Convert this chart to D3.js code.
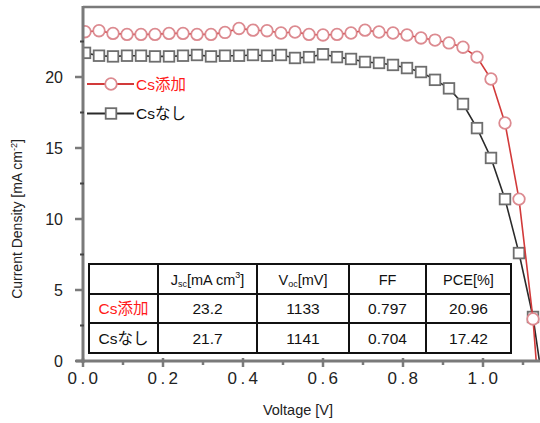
<!DOCTYPE html>
<html><head><meta charset="utf-8">
<script src="https://cdn.jsdelivr.net/npm/d3@7"></script>
<style>
body{margin:0;background:#fff;}
svg{display:block;font-family:"Liberation Sans",Arial,"Noto Sans CJK JP",sans-serif;}
</style></head>
<body><svg id="c" width="540" height="423"></svg>
<script>
// ---- data ----
const voltage = [0.005, 0.04, 0.075, 0.11, 0.145, 0.18, 0.215, 0.25, 0.285, 0.32, 0.355, 0.39, 0.425, 0.46, 0.495, 0.53, 0.565, 0.6, 0.635, 0.67, 0.705, 0.74, 0.775, 0.81, 0.845, 0.88, 0.915, 0.95, 0.985, 1.02, 1.055, 1.09, 1.125];
const jWithCs = [23.19, 23.26, 23.07, 23.0, 23.0, 23.0, 23.07, 23.07, 23.0, 23.0, 23.14, 23.42, 23.3, 23.26, 23.1, 23.17, 23.0, 22.96, 23.0, 23.1, 23.3, 23.17, 23.1, 22.96, 22.75, 22.6, 22.4, 22.1, 21.4, 19.86, 16.76, 11.4, 2.96];
const jNoCs = [21.7, 21.5, 21.45, 21.5, 21.5, 21.45, 21.45, 21.5, 21.55, 21.45, 21.5, 21.5, 21.55, 21.5, 21.55, 21.34, 21.4, 21.6, 21.4, 21.27, 21.06, 20.99, 20.85, 20.63, 20.35, 19.8, 19.2, 18.1, 16.4, 14.3, 11.4, 7.6, 3.1];
const seriesNames = ["Cs添加", "Csなし"];
const vocVolts = [1.133, 1.141];
const xTicks = [0.0, 0.2, 0.4, 0.6, 0.8, 1.0];
const xMinorTicks = [0.1, 0.3, 0.5, 0.7, 0.9, 1.1];
const yTicks = [0, 5, 10, 15, 20];
const yMinorTicks = [2.5, 7.5, 12.5, 17.5, 22.5];
const tableJsc = ["23.2", "21.7"];
const tableVoc = ["1133", "1141"];
const tableFF = ["0.797", "0.704"];
const tablePCE = ["20.96", "17.42"];

// ---- layout ----
const svg = d3.select("#c");
const x = d3.scaleLinear().domain([0, 1.1425]).range([83, 540]);
const y = d3.scaleLinear().domain([0, 25]).range([361, 6]);
const axisColor = "#7a7a7a";

// top border
svg.append("line").attr("x1", 83).attr("x2", 540).attr("y1", 7).attr("y2", 7)
  .attr("stroke", axisColor).attr("stroke-width", 2.5);

// series
const series = [
  {name: seriesNames[0], j: jWithCs, voc: vocVolts[0], line: "#d23a3a", mark: "#dc8a90", shape: "circle", text: "#ff1a1a"},
  {name: seriesNames[1], j: jNoCs, voc: vocVolts[1], line: "#2a2a2a", mark: "#6e6e6e", shape: "square", text: "#111"}
];
const line = d3.line().x(d => x(d[0])).y(d => y(d[1]));
svg.append("clipPath").attr("id", "pc").append("rect")
  .attr("x", 83).attr("y", 0).attr("width", 460).attr("height", 361);

function marker(g, cx, cy, s) {
  if (s.shape === "circle") {
    g.append("circle").attr("cx", cx).attr("cy", cy).attr("r", 5.8)
      .attr("fill", "#fff").attr("stroke", s.mark).attr("stroke-width", 1.8);
  } else {
    g.append("rect").attr("x", cx - 5.3).attr("y", cy - 5.3).attr("width", 10.6).attr("height", 10.6)
      .attr("fill", "#fff").attr("stroke", s.mark).attr("stroke-width", 1.8);
  }
}

// draw black first then red on top
[series[1], series[0]].forEach(s => {
  const g = svg.append("g").attr("clip-path", "url(#pc)");
  const pts = voltage.map((v, i) => [v, s.j[i]]).concat([[s.voc, 0]]);
  g.append("path").attr("d", line(pts)).attr("fill", "none")
    .attr("stroke", s.line).attr("stroke-width", 1.6);
  voltage.forEach((v, i) => marker(g, x(v), y(s.j[i]), s));
});

// legend
series.forEach((s, i) => {
  const ly = 84 + i * 29.5;
  svg.append("line").attr("x1", 87).attr("x2", 134).attr("y1", ly).attr("y2", ly)
    .attr("stroke", s.line).attr("stroke-width", 2);
  marker(svg, 111, ly, s);
  svg.append("text").attr("x", 136).attr("y", ly + 5.5).attr("font-size", 15.5)
    .attr("fill", s.text).text(s.name);
});

// axes
const gx = svg.append("g").attr("transform", "translate(0,361)");
gx.append("line").attr("x1", 76).attr("x2", 540).attr("stroke", axisColor).attr("stroke-width", 3);
gx.selectAll(".mj").data(xTicks).join("line").attr("class", "mj").attr("x1", d => x(d)).attr("x2", d => x(d))
  .attr("y1", -3).attr("y2", 6).attr("stroke", axisColor).attr("stroke-width", 2.5);
gx.selectAll(".mn").data(xMinorTicks).join("line").attr("class", "mn").attr("x1", d => x(d)).attr("x2", d => x(d))
  .attr("y1", 1).attr("y2", 4).attr("stroke", axisColor).attr("stroke-width", 2.5);
gx.selectAll(".tl").data(xTicks).join("text").attr("class", "tl")
  .attr("x", d => x(d) + 1.5).attr("y", 23).attr("text-anchor", "middle")
  .attr("font-size", 17).attr("letter-spacing", "3.4px").attr("fill", "#222")
  .text(d => d3.format(".1f")(d));

const gy = svg.append("g");
gy.append("line").attr("x1", 83).attr("x2", 83).attr("y1", 6).attr("y2", 363)
  .attr("stroke", axisColor).attr("stroke-width", 3);
gy.selectAll(".mj").data(yTicks).join("line").attr("class", "mj")
  .attr("x1", 75).attr("x2", 84).attr("y1", d => y(d)).attr("y2", d => y(d))
  .attr("stroke", axisColor).attr("stroke-width", 2.5);
gy.selectAll(".mn").data(yMinorTicks).join("line").attr("class", "mn")
  .attr("x1", 80).attr("x2", 84).attr("y1", d => y(d)).attr("y2", d => y(d))
  .attr("stroke", "#444").attr("stroke-width", 2);
gy.selectAll(".tl").data(yTicks).join("text").attr("class", "tl")
  .attr("x", 63).attr("y", d => y(d) + 6).attr("text-anchor", "end")
  .attr("font-size", 16).attr("fill", "#222").text(d => d);

// axis titles
const yl = svg.append("text").attr("transform", "translate(22,219) rotate(-90)")
  .attr("text-anchor", "middle").attr("font-size", 14).attr("fill", "#222");
yl.append("tspan").text("Current Density [mA cm");
yl.append("tspan").attr("dy", -5).attr("font-size", 9).text("-2");
yl.append("tspan").attr("dy", 5).text("]");
svg.append("text").attr("x", 298).attr("y", 415).attr("text-anchor", "middle")
  .attr("font-size", 14.5).attr("fill", "#222").text("Voltage [V]");

// table
const colX = [89, 158, 257, 349, 426, 511];
const rowY = [264, 294, 323, 353];
const tg = svg.append("g");
tg.append("rect").attr("x", colX[0]).attr("y", rowY[0]).attr("width", colX[5] - colX[0])
  .attr("height", rowY[3] - rowY[0]).attr("fill", "#fff");
colX.forEach(cx => tg.append("line").attr("x1", cx).attr("x2", cx).attr("y1", rowY[0]).attr("y2", rowY[3])
  .attr("stroke", "#111").attr("stroke-width", 2));
rowY.forEach(ry => tg.append("line").attr("x1", colX[0] - 1).attr("x2", colX[5] + 1).attr("y1", ry).attr("y2", ry)
  .attr("stroke", "#111").attr("stroke-width", 2));
const cxm = i => (colX[i] + colX[i + 1]) / 2;
const cym = r => (rowY[r] + rowY[r + 1]) / 2 + 5.5;
function hdr(i, parts) {
  const t = tg.append("text").attr("x", cxm(i)).attr("y", cym(0)).attr("text-anchor", "middle")
    .attr("font-size", 14.5).attr("fill", "#111");
  parts.forEach(p => {
    const s = t.append("tspan").text(p[0]);
    if (p[1] === "sub") s.attr("font-size", 9).attr("dy", 2);
    else if (p[1] === "sup") s.attr("font-size", 9).attr("dy", -7);
    else if (p[1] === "back") s.attr("dy", p[2]);
  });
}
hdr(1, [["J"], ["sc", "sub"], ["[mA cm", "back", -2], ["3", "sup"], ["]", "back", 7]]);
hdr(2, [["V"], ["oc", "sub"], ["[mV]", "back", -2]]);
hdr(3, [["FF"]]);
hdr(4, [["PCE[%]"]]);
const cols = [tableJsc, tableVoc, tableFF, tablePCE];
series.forEach((s, r) => {
  tg.append("text").attr("x", cxm(0)).attr("y", cym(r + 1)).attr("text-anchor", "middle")
    .attr("font-size", 15.5).attr("fill", s.text).text(s.name);
  cols.forEach((c, k) => tg.append("text").attr("x", cxm(k + 1)).attr("y", cym(r + 1))
    .attr("text-anchor", "middle").attr("font-size", 15.5).attr("fill", "#111").text(c[r]));
});
</script></body></html>
